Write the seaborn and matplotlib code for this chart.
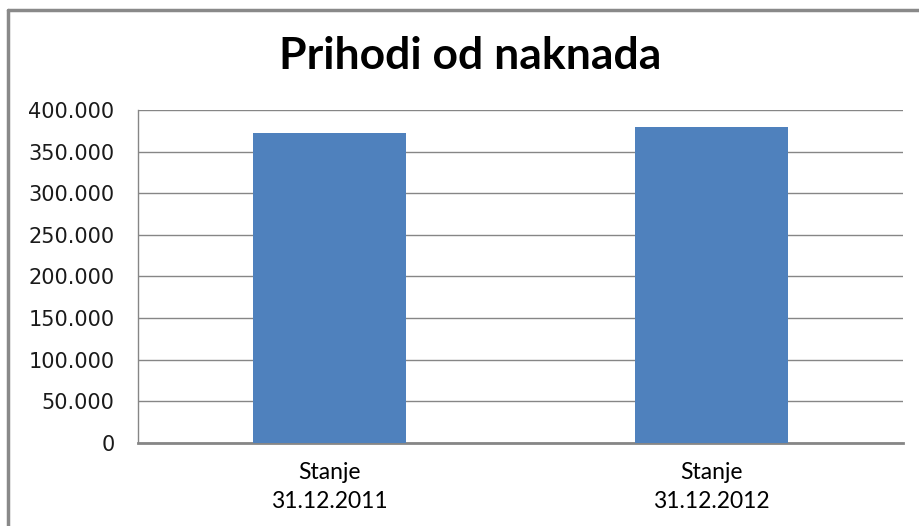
import numpy as np
import pandas as pd
import matplotlib
matplotlib.use('Agg')
import matplotlib.pyplot as plt
import seaborn as sns
from matplotlib.lines import Line2D
from matplotlib.ticker import FuncFormatter

categories = ['Stanje\n31.12.2011', 'Stanje\n31.12.2012']
values = [372000, 380000]
yticks = [0, 50000, 100000, 150000, 200000, 250000, 300000, 350000, 400000]

df = pd.DataFrame({'kat': categories, 'prihod': values})

sns.set_style('white')
plt.rcParams['font.family'] = ['DejaVu Sans']

fig = plt.figure(figsize=(9.19, 5.26), dpi=100)
ax = fig.add_axes([0.1502, 0.1578, 0.8324, 0.6331])

sns.barplot(data=df, x='kat', y='prihod', color='#4F81BD', width=0.4,
            saturation=1, linewidth=0, ax=ax, zorder=3)

ax.set_ylim(0, 400000)
ax.set_xlim(-0.5, 1.5)
ax.set_yticks(yticks)
ax.yaxis.set_major_formatter(FuncFormatter(lambda v, p: '0' if v == 0 else f'{int(v):,}'.replace(',', '.')))
ax.grid(axis='y', color='#868686', linewidth=1, zorder=0)
ax.set_xlabel('')
ax.set_ylabel('')

for s in ['top', 'right']:
    ax.spines[s].set_visible(False)
ax.spines['left'].set_color('#868686')
ax.spines['left'].set_linewidth(1)
ax.spines['bottom'].set_color('#868686')
ax.spines['bottom'].set_linewidth(2)

ax.set_xticks([-0.5, 0.5, 1.5], minor=False)
ax.set_xticklabels(['', '', ''])
ax.set_xticks([0, 1], minor=True)
ax.set_xticklabels(categories, minor=True, fontsize=16.5, family=['Lato'], linespacing=1.45)
ax.tick_params(axis='x', which='major', length=7, color='#868686', width=1, direction='out')
ax.tick_params(axis='x', which='minor', length=0, pad=14)
ax.tick_params(axis='y', length=9, color='#868686', width=1, direction='out',
               labelsize=15, pad=8, labelcolor='#1a1a1a')
ax.tick_params(axis='x', which='minor', labelcolor='#000000')

fig.text(0.512, 0.893, 'Prihodi od naknada', ha='center', va='center',
         fontsize=32, fontweight='bold', family=['Lato'], color='black')

# Excel-style chart border (only top and left visible in the crop)
fig.add_artist(Line2D([8 / 919, 8 / 919], [0, 1 - 10 / 526], color='#898989', linewidth=2.5))
fig.add_artist(Line2D([8 / 919, 1], [1 - 10 / 526, 1 - 10 / 526], color='#898989', linewidth=2.5))

fig.savefig('out.png', dpi=100)
